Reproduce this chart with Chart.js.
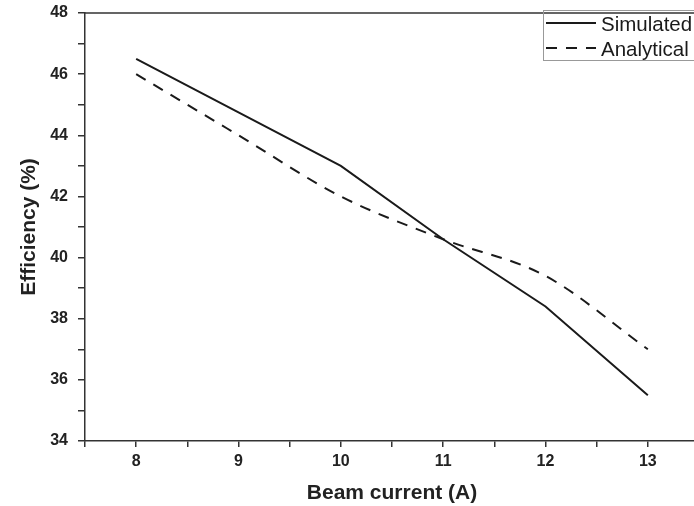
<!DOCTYPE html>
<html>
<head>
<meta charset="utf-8">
<script src="https://cdn.jsdelivr.net/npm/chart.js@4"></script>
<style>
  html, body { margin: 0; padding: 0; background: #fff; }
  #wrap { width: 694px; height: 506px; overflow: hidden; }
</style>
</head>
<body>
<div id="wrap"><canvas id="chart1" width="760" height="506"></canvas></div>
<script>
const beamCurrent = [8, 9, 10, 11, 12, 13];
const simulated = [46.5, 44.75, 43.0, 40.6, 38.4, 35.5];
const analytical = [46.0, 44.0, 42.0, 40.6, 39.4, 37.0];
const seriesNames = ['Simulated', 'Analytical'];

const ink = '#1a1a1a';
const font = '"Liberation Sans", Arial, sans-serif';

// frame round the plot + the legend box in the top right corner
const framePlugin = {
  id: 'frame',
  afterDraw(chart) {
    const ctx = chart.ctx;
    const a = chart.chartArea;
    ctx.save();
    ctx.strokeStyle = '#333';
    ctx.lineWidth = 1.5;
    ctx.beginPath();
    ctx.moveTo(a.left, a.top);
    ctx.lineTo(a.right, a.top);
    ctx.lineTo(a.right, a.bottom);
    ctx.stroke();

    // legend
    ctx.strokeStyle = '#999';
    ctx.lineWidth = 1;
    ctx.strokeRect(543.5, 10.5, 220, 50);
    ctx.font = '20.5px ' + font;
    ctx.textBaseline = 'middle';
    ctx.fillStyle = ink;
    chart.data.datasets.forEach((ds, i) => {
      const y = 23 + i * 25;
      ctx.strokeStyle = ink;
      ctx.lineWidth = 2;
      ctx.setLineDash(ds.borderDash || []);
      ctx.beginPath();
      ctx.moveTo(546, y);
      ctx.lineTo(596, y);
      ctx.stroke();
      ctx.setLineDash([]);
      ctx.fillText(ds.label, 601, y + 2);
    });
    ctx.restore();
  }
};

new Chart(document.getElementById('chart1'), {
  type: 'line',
  data: {
    labels: beamCurrent,
    datasets: [
      {
        label: seriesNames[0],
        data: beamCurrent.map((x, i) => ({ x: x, y: simulated[i] })),
        borderColor: ink,
        borderWidth: 2,
        pointRadius: 0,
        tension: 0
      },
      {
        label: seriesNames[1],
        data: beamCurrent.map((x, i) => ({ x: x, y: analytical[i] })),
        borderColor: ink,
        borderWidth: 2,
        borderDash: [11, 9],
        pointRadius: 0,
        cubicInterpolationMode: 'monotone'
      }
    ]
  },
  options: {
    responsive: false,
    animation: false,
    layout: { padding: { top: 13, right: 61, left: 0, bottom: 0 } },
    plugins: { legend: { display: false }, tooltip: { enabled: false } },
    scales: {
      x: {
        type: 'linear',
        min: 7.5,
        max: 13.5,
        afterFit(s) { s.height = 65; s.paddingLeft = 0; s.paddingRight = 0; },
        ticks: {
          stepSize: 0.5,
          autoSkip: false,
          maxRotation: 0,
          color: '#222',
          font: { family: font, size: 16, weight: 'bold' },
          padding: 5,
          callback: v => Number.isInteger(v) && v > 7.5 && v < 13.5 ? String(v) : ''
        },
        grid: { drawOnChartArea: false, drawTicks: true, tickLength: 6, color: '#333', lineWidth: 1.5 },
        border: { color: '#333', width: 1.5 },
        title: {
          display: true,
          text: 'Beam current (A)',
          color: '#222',
          font: { family: font, size: 21, weight: 'bold' },
          padding: { top: 4, bottom: 0 }
        }
      },
      y: {
        min: 34,
        max: 48,
        afterFit(s) { s.width = 85; s.paddingTop = 0; s.paddingBottom = 0; },
        ticks: {
          stepSize: 1,
          autoSkip: false,
          color: '#222',
          font: { family: font, size: 16, weight: 'bold' },
          padding: 10,
          callback: v => v % 2 === 0 ? String(v) : ''
        },
        grid: { drawOnChartArea: false, drawTicks: true, tickLength: 7, color: '#333', lineWidth: 1.5 },
        border: { color: '#333', width: 1.5 },
        title: {
          display: true,
          text: 'Efficiency (%)',
          color: '#222',
          font: { family: font, size: 21, weight: 'bold' },
          padding: { top: 17, bottom: 0 }
        }
      }
    }
  },
  plugins: [framePlugin]
});
</script>
</body>
</html>
